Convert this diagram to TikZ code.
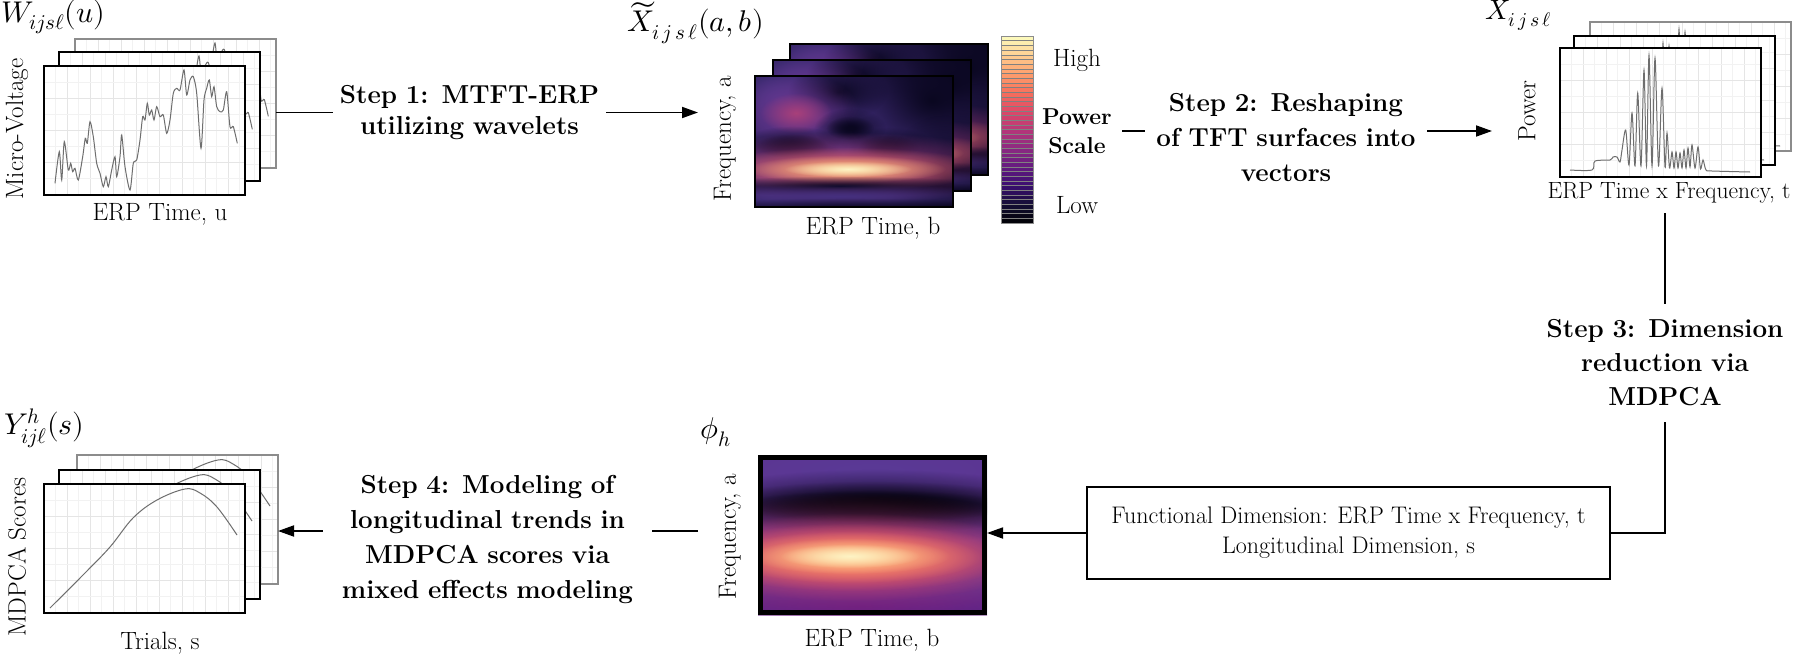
\documentclass[tikz,border=0pt]{standalone}
\usepackage{fontspec}
\usepackage{unicode-math}
\setmathfont{Latin Modern Math}
\usetikzlibrary{arrows.meta,fadings,calc}

\definecolor{m0}{HTML}{000004}
\definecolor{m1}{HTML}{140E36}
\definecolor{m2}{HTML}{3B0F70}
\definecolor{m3}{HTML}{641A80}
\definecolor{m4}{HTML}{8C2981}
\definecolor{m5}{HTML}{B73779}
\definecolor{m6}{HTML}{DE4968}
\definecolor{m7}{HTML}{F7705C}
\definecolor{m8}{HTML}{FE9F6D}
\definecolor{m9}{HTML}{FECF92}
\definecolor{m10}{HTML}{FCFDBF}
\definecolor{hbg}{HTML}{0C0824}
\definecolor{hpur}{HTML}{45307F}
\definecolor{hpurl}{HTML}{553A92}
\definecolor{hpink}{HTML}{A8407A}
\definecolor{hpinkh}{HTML}{6A3388}
\definecolor{hdark}{HTML}{0A0720}
\definecolor{hmag}{HTML}{A33B7E}
\definecolor{horange}{HTML}{EC6F5F}
\definecolor{hyel}{HTML}{F8C083}
\definecolor{hcore}{HTML}{FDF3C4}
\definecolor{phibg}{HTML}{5E3290}
\definecolor{phitop}{HTML}{5A3A96}
\definecolor{curvec}{HTML}{6E6E6E}

\tikzfading[name=softblob, inner color=transparent!0, outer color=transparent!100]

\newcommand\lblfont{\fontsize{25}{29}\selectfont}
\newcommand\stepfontA{\fontsize{26}{31}\selectfont\bfseries}
\newcommand\stepfontB{\fontsize{26}{35}\selectfont\bfseries}
\newcommand\psfont{\fontsize{23}{29}\selectfont\bfseries}
\newcommand\boxfont{\fontsize{24}{30}\selectfont}
\newcommand\mlblfont{\fontsize{30}{34}\selectfont}

\newcommand\hblob[5]{\fill[#1, path fading=softblob] (#2,#3) ellipse ({2*#4} and {2*#5});}

\newcommand\wcurve{\draw[curvec, line width=1pt] plot[smooth, tension=0.45] coordinates {(55.0,183.3) (59.3,151.7) (61.7,180) (64.3,141.7) (68.3,170) (70.7,163.3) (72.7,171.7) (75,168.3) (78.3,180) (82.7,156.7) (85.3,138.3) (87.3,143.3) (90,121.7) (93.3,136.7) (96.7,163.3) (100,173.3) (103.3,186.7) (106,176.7) (108.3,186.7) (111.7,170) (115,156.7) (116.7,176.7) (120,156.7) (121.7,135) (125,166.7) (130,190) (133.3,163.3) (136.7,160) (140,140) (142.7,116.7) (145,120) (147.3,103.3) (149.3,115) (151.7,110) (154,120) (156.7,106.7) (160,116.7) (163.3,115) (166.7,133.3) (170,120) (173.3,93.3) (176.7,88.3) (180,90) (184,70) (186.7,95) (190,80) (193.3,76.7) (196.7,93.3) (201,148.3) (204,100) (206.7,88.3) (209.3,80) (211.7,96.7) (214,86.7) (216.7,106.7) (220,111.7) (223.3,110) (226.7,91.7) (230,126.7) (233.3,126.7) (237.3,143.3)};}

\newcommand\xcurve{\draw[curvec, line width=1pt] plot[smooth, tension=0.5] coordinates {(1570,170) (1592,170) (1595,161) (1610,160) (1613,157) (1617,157) (1620,162) (1622,150) (1625.7,130) (1629,165) (1632,113) (1635,166) (1637.7,93) (1641,166) (1644,70) (1646.5,166) (1649,55) (1652,166) (1655,58) (1658.5,166) (1662,88) (1665,167) (1667,133) (1669.5,168) (1672,152) (1674,168) (1676,152) (1678,168) (1680,153) (1682,168) (1684,150) (1686,168) (1688,148) (1690,167) (1692,145) (1695,168) (1698,147) (1700.5,169) (1703,160) (1706,170) (1712,171) (1750,172)};}

\newcommand\ycurve{\draw[curvec, line width=1pt] plot[smooth, tension=0.6] coordinates {(50,608) (83,575) (110,547) (133,518) (157,500) (185,489) (200,493) (217,507) (237,535)};}

% line panel: name, x, y, border colour, curve, shift
\newcommand\lpanel[6]{%
  \node[lpan, draw=#4, anchor=north west] (#1) at (#2,#3) {};
  \begin{scope}
    \clip (#1.south west) rectangle (#1.north east);
    \foreach \k in {1,...,8} \draw[gmaj] ({#2+23*\k},#3) -- ++(0,129);
    \foreach \k in {0,...,8} \draw[gmin] ({#2+11.5+23*\k},#3) -- ++(0,129);
    \foreach \k in {1,...,3} \draw[gmaj] (#2,{#3+32*\k}) -- ++(201,0);
    \foreach \k in {0,...,3} \draw[gmin] (#2,{#3+16+32*\k}) -- ++(201,0);
    \begin{scope}[shift={(#6)}] #5 \end{scope}
  \end{scope}
  \draw[draw=#4, line width=1.6pt] (#1.south west) rectangle (#1.north east);
}

\newcommand\tfcontent{%
  \hblob{hpur}{800}{112}{60}{45}
  \hblob{hpur}{880}{118}{50}{30}
  \hblob{hpur}{905}{140}{40}{25}
  \hblob{hpur}{845}{165}{115}{35}
  \hblob{hpur}{770}{185}{35}{30}
  \hblob{hpurl}{780}{100}{35}{25}
  \hblob{hdark}{838}{92}{25}{14}
  \hblob{hpinkh}{796}{113}{32}{20}
  \hblob{hpink}{796}{113}{18}{10}
  \hblob{hdark}{792}{146}{28}{10}
  \hblob{hdark}{792}{146}{18}{6}
  \hblob{hdark}{850}{128}{18}{10}
  \hblob{hdark}{850}{128}{12}{6}
  \hblob{hdark}{888}{147}{24}{10}
  \hblob{hdark}{888}{147}{15}{6}
  \hblob{hdark}{932}{100}{45}{35}
  \hblob{hdark}{945}{175}{30}{30}
  \hblob{hmag}{845}{168}{90}{18}
  \hblob{horange}{845}{169}{70}{11}
  \hblob{hyel}{846}{169}{50}{7}
  \hblob{hcore}{848}{169}{32}{4}
  \hblob{hdark}{840}{186}{80}{5}
  \hblob{hpur}{840}{196}{90}{6}
  \hblob{hdark}{850}{210}{110}{6}
}

% heat panel: name, x, y, shift
\newcommand\hpanel[4]{%
  \node[hpan, anchor=north west] (#1) at (#2,#3) {};
  \begin{scope}
    \clip (#1.south west) rectangle (#1.north east);
    \begin{scope}[shift={(#4)}] \tfcontent \end{scope}
  \end{scope}
  \draw[line width=2pt] (#1.south west) rectangle (#1.north east);
}

\begin{document}
\begin{tikzpicture}[x=1pt, y=-1pt,
  lpan/.style={minimum width=201pt, minimum height=129pt, inner sep=0pt, outer sep=0pt, fill=white, line width=1.6pt},
  hpan/.style={minimum width=198pt, minimum height=131pt, inner sep=0pt, outer sep=0pt, fill=hbg},
  gmaj/.style={draw=black!10, line width=0.7pt},
  gmin/.style={draw=black!5, line width=0.5pt},
  conn/.style={line width=1.8pt},
  arr/.style={conn, -{Triangle[length=16pt,width=11pt]}},
  lbl/.style={font=\lblfont, inner sep=0pt},
  mlbl/.style={font=\mlblfont, inner sep=0pt},
  steptxt/.style={align=center, inner sep=0pt, font=\stepfontB},
  ghost/.style={inner sep=0pt, outer sep=0pt}]

\fill[white] (0,0) rectangle (1800,656);
\useasboundingbox (0,0) rectangle (1800,656);

% ---------- W stack ----------
\lpanel{wback}{75}{39}{black!45}{\wcurve}{31,-27}
\lpanel{wmid}{59}{52}{black}{\wcurve}{15,-14}
\lpanel{wfront}{44}{66}{black}{\wcurve}{0,0}
\node[mlbl, anchor=west] (wlab) at (1,17) {$W_{ijs\ell}(u)$};
\node[lbl, rotate=90] (wy) at (17,129) {Micro-Voltage};
\node[lbl] (wx) at (160,214) {ERP Time, u};

% ---------- Step 1 ----------
\node[steptxt, font=\stepfontA, text width=273pt] (s1) at (469.5,112.5) {Step 1: MTFT-ERP\\utilizing wavelets};

% ---------- X tilde stack ----------
\node[ghost, minimum width=335pt, minimum height=200pt, anchor=west] (xtgrp) at (698,130) {};
\hpanel{xtback}{790}{44}{35,-32}
\hpanel{xtmid}{773}{60}{18,-16}
\hpanel{xtfront}{755}{76}{0,0}
\node[mlbl, anchor=north west] (xtlab) at (627,2) {$\widetilde{X}_{i\mkern3mu j\mkern3mu s\mkern3mu\ell}(a,b)$};
\node[lbl, rotate=90] (xty) at (725,139) {Frequency, a};
\node[lbl] (xtx) at (873,228) {ERP Time, b};

% colour bar
\node[ghost, minimum width=32pt, minimum height=187pt, anchor=north west] (cbar) at (1001,36) {};
\foreach \k in {0,...,39}{
  \pgfmathsetmacro\cbt{10*(1-(\k+0.5)/40)}
  \pgfmathtruncatemacro\cbs{floor(\cbt)}
  \pgfmathtruncatemacro\cbf{round(100*(\cbt-\cbs))}
  \pgfmathtruncatemacro\cbn{\cbs+1}
  \colorlet{cbc}{m\cbn!\cbf!m\cbs}
  \fill[cbc] (1001,{36+\k*4.675}) rectangle (1033,{36+(\k+1)*4.675});
  \draw[black!50, line width=0.4pt] (1001,{36+\k*4.675}) -- (1033,{36+\k*4.675});
}
\draw[black!45, line width=0.9pt] (cbar.south west) rectangle (cbar.north east);
\node[lbl] (hi) at (1077,60) {High};
\node[align=center, inner sep=0pt, font=\psfont, text width=90pt] (ps) at (1077,131) {Power\\Scale};
\node[lbl] (lo) at (1077,205) {Low};

% ---------- Step 2 ----------
\node[steptxt, text width=282pt] (s2) at (1286,138) {Step 2:\enspace Reshaping\\of TFT surfaces into\\vectors};

% ---------- X stack ----------
\node[ghost, minimum width=299pt, minimum height=180pt, anchor=west] (xgrp) at (1492,100) {};
\lpanel{xback}{1590}{22}{black!45}{\xcurve}{30,-26}
\lpanel{xmid}{1574}{36}{black}{\xcurve}{14,-12}
\lpanel{xfront}{1560}{48}{black}{\xcurve}{0,0}
\node[inner sep=0pt, font=\fontsize{28}{32}\selectfont, anchor=west] (xlab) at (1485,15) {$X_{i\mkern3mu j\mkern3mu s\mkern3mu\ell}$};
\node[lbl, rotate=90] (xy) at (1527,111) {Power};
\node[inner sep=0pt, font=\fontsize{23.5}{28}\selectfont, minimum height=40pt] (xx) at (1669,193) {ERP Time x Frequency, t};

% ---------- Step 3 ----------
\node[steptxt, font=\fontsize{26}{34}\selectfont\bfseries, text width=260pt, minimum height=118pt] (s3) at (1665,363) {Step 3: Dimension\\reduction via\\MDPCA};

% ---------- box ----------
\node[draw, line width=1.8pt, minimum width=523pt, minimum height=92pt, align=center, font=\boxfont, inner sep=0pt] (box) at (1348.5,533) {Functional Dimension: ERP Time x Frequency, t\\Longitudinal Dimension, s};

% ---------- phi panel ----------
\node[ghost, minimum width=289pt, minimum height=200pt, anchor=east] (phigrp) at (987,531) {};
\node[ghost, fill=phibg, minimum width=229pt, minimum height=160pt, anchor=north west] (phip) at (758,455) {};
\begin{scope}
  \clip (phip.south west) rectangle (phip.north east);
  \hblob{phitop}{870}{470}{140}{25}
  \hblob{m3}{860}{606}{140}{14}
  \hblob{hdark}{875}{507}{100}{19}
  \hblob{m0}{874}{507}{88}{13}
  \hblob{m0}{874}{506}{70}{8}
  \hblob{hmag}{853}{557}{115}{32}
  \hblob{m6}{853}{557}{95}{22}
  \hblob{m7}{852}{557}{80}{17}
  \hblob{m8}{851}{557}{65}{13}
  \hblob{m9}{850}{556}{50}{9}
  \hblob{hcore}{850}{556}{35}{6}
\end{scope}
\draw[line width=5pt] ([shift={(2.5,2.5)}]phip.north west) rectangle ([shift={(-2.5,-2.5)}]phip.south east);
\node[mlbl, anchor=west] (philab) at (700,432) {$\phi_h$};
\node[lbl, rotate=90] (phiy) at (730,537) {Frequency, a};
\node[lbl] (phix) at (872,640) {ERP Time, b};

% ---------- Step 4 ----------
\node[steptxt, text width=329pt] (s4) at (487.5,540) {Step 4: Modeling of\\longitudinal trends in\\MDPCA scores via\\mixed effects modeling};

% ---------- Y stack ----------
\lpanel{yback}{77}{455}{black!45}{\ycurve}{33,-29}
\lpanel{ymid}{59}{470}{black}{\ycurve}{15,-14}
\lpanel{yfront}{44}{484}{black}{\ycurve}{0,0}
\node[mlbl, anchor=west] (ylab) at (4,428) {$Y^{h}_{ij\ell}(s)$};
\node[lbl, rotate=90] (yy) at (17,557) {MDPCA Scores};
\node[lbl] (yx) at (160,643) {Trials, s};

% ---------- connectors ----------
\draw[conn] (wback.east |- s1.west) -- (s1.west);
\draw[arr] (s1.east) -- (s1.east -| xtgrp.west);
\draw[conn] (ps.east) -- (ps.east -| s2.west);
\draw[arr] (s2.east |- ps.east) -- (xgrp.west |- ps.east);
\draw[conn] (s3.north |- xx.south) -- (s3.north);
\draw[conn] (s3.south) |- (box.east);
\draw[arr] (box.west) -- (box.west -| phigrp.east);
\draw[conn] (phigrp.west) -- (phigrp.west -| s4.east);
\draw[arr] (s4.west |- phigrp.west) -- (yback.east |- phigrp.west);
\end{tikzpicture}
\end{document}
